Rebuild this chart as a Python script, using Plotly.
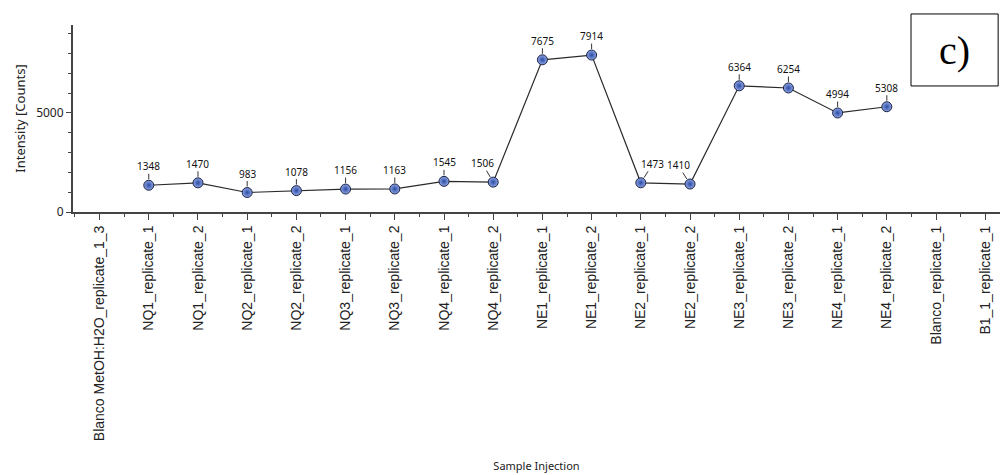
import plotly.graph_objects as go

# Injection sequence (x categories)
samples = [
    "Blanco MetOH:H2O_replicate_1_3",
    "NQ1_replicate_1", "NQ1_replicate_2",
    "NQ2_replicate_1", "NQ2_replicate_2",
    "NQ3_replicate_1", "NQ3_replicate_2",
    "NQ4_replicate_1", "NQ4_replicate_2",
    "NE1_replicate_1", "NE1_replicate_2",
    "NE2_replicate_1", "NE2_replicate_2",
    "NE3_replicate_1", "NE3_replicate_2",
    "NE4_replicate_1", "NE4_replicate_2",
    "Blanco_replicate_1", "B1_1_replicate_1",
]

# Intensity per injection (blanks have no detected signal)
intensity = [
    None,
    1348, 1470,
    983, 1078,
    1156, 1163,
    1545, 1506,
    7675, 7914,
    1473, 1410,
    6364, 6254,
    4994, 5308,
    None, None,
]

# Horizontal nudges for crowded value labels (pixels)
label_shift = {8: -11, 11: 12, 12: -12}

x_idx = list(range(len(samples)))
pts_x = [i for i, v in zip(x_idx, intensity) if v is not None]
pts_y = [v for v in intensity if v is not None]

fig = go.Figure()
fig.add_trace(go.Scatter(
    x=pts_x, y=pts_y,
    mode="lines+markers",
    line=dict(color="#2a2a2a", width=1.2),
    marker=dict(
        size=10,
        color="#8ea6ea",
        gradient=dict(type="radial", color="#2c4aa0"),
        line=dict(color="#1c2340", width=1),
    ),
    hoverinfo="x+y",
    showlegend=False,
))

for i, v in zip(pts_x, pts_y):
    fig.add_annotation(
        x=i, y=v, text=str(v),
        showarrow=True, arrowhead=0, arrowwidth=1, arrowcolor="#333333",
        ax=label_shift.get(i, 0), ay=-19, standoff=6,
        font=dict(family="Noto Sans, Open Sans, sans-serif", size=10, color="#111111"),
        borderpad=0,
    )

# Panel tag
fig.add_shape(
    type="rect", xref="paper", yref="paper",
    x0=0.904, x1=0.998, y0=0.674, y1=1.059,
    line=dict(color="#000000", width=1), fillcolor="rgba(0,0,0,0)",
)
fig.add_annotation(
    xref="paper", yref="paper", x=0.951, y=0.866, xanchor="center", yanchor="middle",
    text="c)", showarrow=False,
    font=dict(family="Liberation Serif, Times New Roman, serif", size=40, color="#000000"),
)

fig.update_layout(
    width=1001, height=475,
    margin=dict(l=73, r=1, t=25, b=263),
    paper_bgcolor="white", plot_bgcolor="white",
    xaxis=dict(
        range=[-0.54, 18.3],
        tickmode="array", tickvals=x_idx, ticktext=samples,
        tickangle=-90,
        tickfont=dict(family="Liberation Sans, Arial, sans-serif", size=14, color="#222222"),
        ticks="outside", ticklen=6, tickwidth=1, tickcolor="#444444",
        minor=dict(tick0=0.5, dtick=1, ticks="outside", ticklen=3, tickcolor="#444444", tickwidth=1),
        showline=True, linecolor="#444444", linewidth=2,
        showgrid=False, zeroline=False,
        title=dict(text="Sample Injection", standoff=22,
                   font=dict(family="Noto Sans, Open Sans, sans-serif", size=11, color="#222222")),
    ),
    yaxis=dict(
        range=[0, 9430],
        tickvals=[0, 5000],
        tickfont=dict(family="Noto Sans, Open Sans, sans-serif", size=12, color="#222222"),
        ticks="outside", ticklen=5, tickwidth=1, tickcolor="#444444",
        minor=dict(dtick=1000, ticks="outside", ticklen=3, tickcolor="#444444", tickwidth=1),
        showline=True, linecolor="#444444", linewidth=2,
        showgrid=False, zeroline=False,
        title=dict(text="Intensity [Counts]", standoff=8,
                   font=dict(family="Noto Sans, Open Sans, sans-serif", size=13, color="#222222")),
    ),
)

fig.write_html("out.html")
